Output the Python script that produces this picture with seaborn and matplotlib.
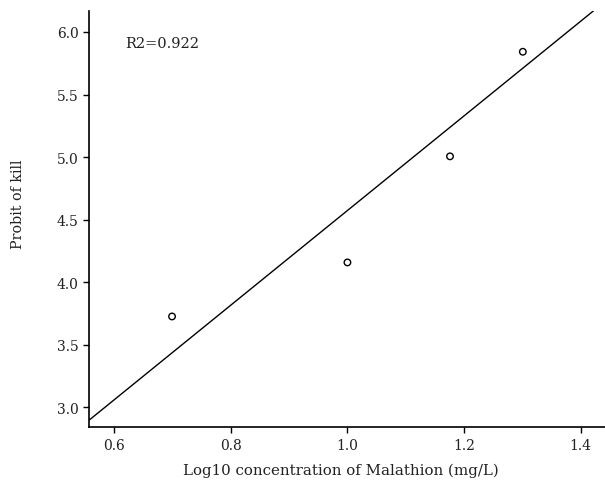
import numpy as np
import pandas as pd
import seaborn as sns
import matplotlib.pyplot as plt

# data
log_conc = [0.699, 1.0, 1.176, 1.301]
probit = [3.726, 4.158, 5.006, 5.842]
slope = 3.78
intercept = 0.793
r2_label = "R2=0.922"

sns.set_style("ticks")
plt.rcParams['font.family'] = ['DejaVu Serif']

fig = plt.figure(figsize=(6.05, 4.85), dpi=100)
ax = fig.add_axes([0.1476, 0.1169, 0.8524, 0.8584])

xlim = (0.557, 1.442)
ylim = (2.84, 6.168)

df = pd.DataFrame({"x": log_conc, "y": probit})
sns.scatterplot(data=df, x="x", y="y", ax=ax, s=22, facecolor="none",
                edgecolor="black", linewidth=1.0, zorder=3)

line_x = np.array(xlim)
line_df = pd.DataFrame({"x": line_x, "y": intercept + slope * line_x})
sns.lineplot(data=line_df, x="x", y="y", ax=ax, color="black", linewidth=1.0)

ax.set_xlim(*xlim)
ax.set_ylim(*ylim)
ax.set_xticks([0.6, 0.8, 1.0, 1.2, 1.4])
ax.set_yticks([3.0, 3.5, 4.0, 4.5, 5.0, 5.5, 6.0])
ax.set_xticklabels(["0.6", "0.8", "1.0", "1.2", "1.4"])
ax.set_yticklabels(["3.0", "3.5", "4.0", "4.5", "5.0", "5.5", "6.0"])
ax.tick_params(axis="both", labelsize=10, length=4, width=1.0, color="black",
               labelcolor="#222222")

sns.despine(ax=ax)
for side in ["left", "bottom"]:
    ax.spines[side].set_color("black")
    ax.spines[side].set_linewidth(1.2)

ax.set_xlabel("Log10 concentration of Malathion (mg/L)", fontsize=10.8,
              color="#222222")
ax.xaxis.set_label_coords(0.488, -0.086)
ax.set_ylabel("Probit of kill", fontsize=10.3, color="#222222")
ax.yaxis.set_label_coords(-0.125, 0.537)

ax.text(0.618, 5.91, r2_label, fontsize=10.5, color="#222222", va="center")

fig.savefig("out.png", dpi=100)
